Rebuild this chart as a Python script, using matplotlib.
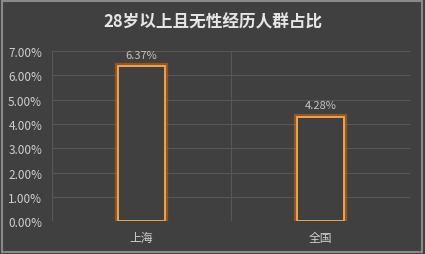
import matplotlib
matplotlib.use("Agg")
import matplotlib.pyplot as plt
import matplotlib.patheffects as pe
from matplotlib.patches import Rectangle

plt.rcParams['font.family'] = ['Noto Sans CJK SC', 'DejaVu Sans']

categories = ["上海", "全国"]
values = [6.37, 4.28]
labels = ["6.37%", "4.28%"]
yticks = [0, 1, 2, 3, 4, 5, 6, 7]

bg = "#404040"
txt = "#cfcfcf"
grid_c = "#575757"

fig = plt.figure(figsize=(4.25, 2.55), dpi=100, facecolor=bg)
ax = fig.add_axes([0.122, 0.129, 0.843, 0.667], facecolor=bg)

x = range(len(categories))
bars = ax.bar(x, values, width=0.26, facecolor=bg, edgecolor="#f2a24a", linewidth=1.4, zorder=3)
for b in bars:
    b.set_path_effects([pe.Stroke(linewidth=4.5, foreground="#c06a14", alpha=0.6), pe.Normal()])

for i, v in enumerate(values):
    ax.text(i, v + 0.28, labels[i], ha="center", va="bottom", color="#c4c4c4", fontsize=8)

ax.set_xlim(-0.5, 1.5)
ax.set_ylim(0, 7)
ax.set_yticks(yticks)
ax.set_yticklabels([f"{t:.2f}%" for t in yticks])
ax.set_xticks(list(x))
ax.set_xticklabels(categories)
ax.tick_params(colors=txt, labelsize=8.5, length=0)
ax.tick_params(axis="y", pad=7)
ax.tick_params(axis="x", pad=7)
for t in yticks:
    ax.axhline(t, color=grid_c, linewidth=0.8, zorder=1)
ax.axvline(0.5, color=grid_c, linewidth=0.8, zorder=1)
for s in ax.spines.values():
    s.set_visible(False)
ax.axvline(-0.5, color=grid_c, linewidth=0.8, zorder=1)
ax.axvline(1.5, color=grid_c, linewidth=0.8, zorder=1)

fig.text(0.5, 0.912, "28岁以上且无性经历人群占比", ha="center", va="center",
         color="#e6e6e6", fontsize=12, fontweight="bold")

fig.patches.append(Rectangle((0.004, 0.006), 0.99, 0.988, transform=fig.transFigure,
                             fill=False, edgecolor="#8a8a8a", linewidth=1.5))

fig.savefig("out.png", dpi=100, facecolor=bg)
